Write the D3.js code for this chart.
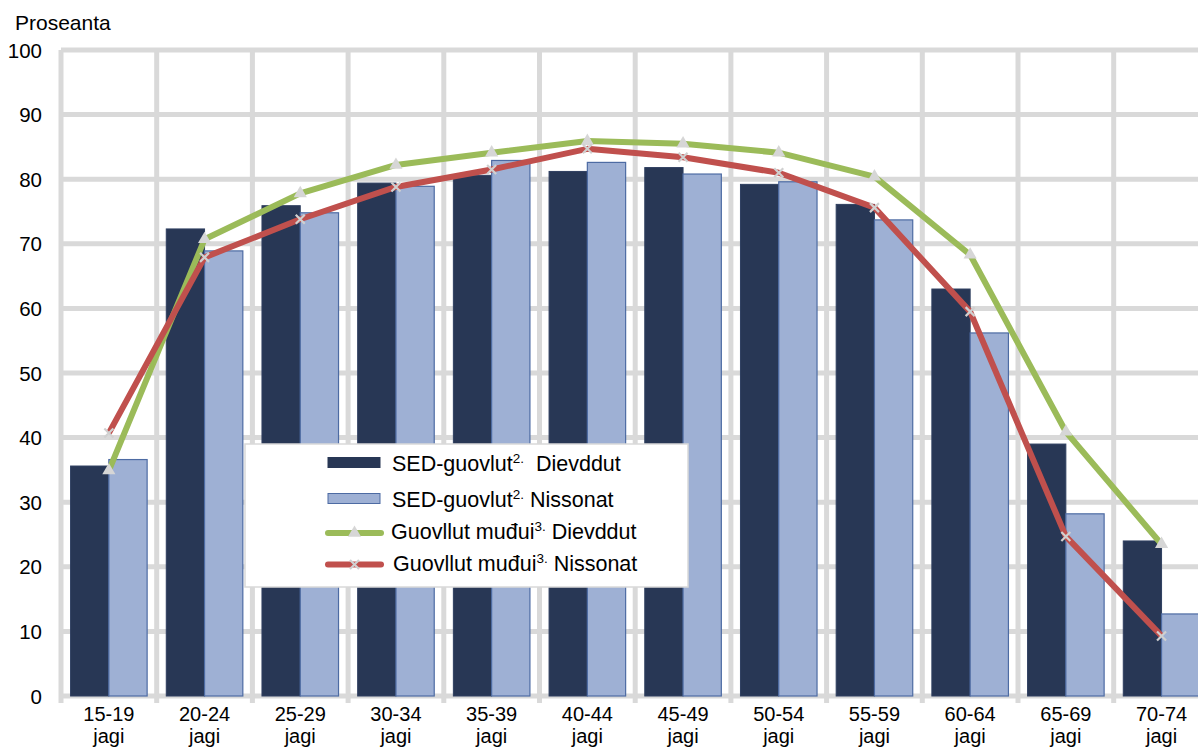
<!DOCTYPE html>
<html>
<head>
<meta charset="utf-8">
<script src="https://cdn.jsdelivr.net/npm/d3@7"></script>
<style>
  html, body { margin: 0; padding: 0; background: #fff; }
  svg { display: block; font-family: "Liberation Sans", Arial, sans-serif; }
</style>
</head>
<body>
<svg id="chart" width="1198" height="749"></svg>
<script>
const categories = ["15-19","20-24","25-29","30-34","35-39","40-44","45-49","50-54","55-59","60-64","65-69","70-74"];
const sedMen   = [35.6, 72.3, 75.9, 79.4, 80.6, 81.2, 81.8, 79.2, 76.1, 63.0, 39.0, 24.0];
const sedWomen = [36.6, 68.9, 74.8, 78.9, 82.9, 82.6, 80.8, 79.6, 73.7, 56.2, 28.2, 12.7];
const regMen   = [34.9, 70.7, 77.8, 82.2, 84.1, 85.9, 85.5, 84.1, 80.4, 68.3, 40.9, 23.5];
const regWomen = [40.7, 67.9, 73.8, 78.8, 81.5, 84.7, 83.4, 81.0, 75.6, 59.5, 24.7, 9.3];
const yTicks = [0,10,20,30,40,50,60,70,80,90,100];
const yTitle = "Proseanta";
const xSuffix = "jagi";
const legendItems = [
  {type:"bar", color:"#283755", stroke:"#283755", main:"SED-guovlut", sup:"2.", rest:"\u00a0 Dievddut"},
  {type:"bar", color:"#9eb0d4", stroke:"#4d6ba3", main:"SED-guovlut", sup:"2.", rest:" Nissonat"},
  {type:"line", color:"#9bbb59", marker:"tri", main:"Guovllut muđui", sup:"3.", rest:" Dievddut"},
  {type:"line", color:"#c0504d", marker:"x", main:"Guovllut muđui", sup:"3.", rest:" Nissonat"}
];

const svg = d3.select("#chart");
const gridColor = "#d9d9d9";
const left = 61, step = 95.7;
const x = d3.scaleBand().domain(categories).range([left, left + step * categories.length]).padding(0);
const y = d3.scaleLinear().domain([0, 100]).range([696, 50]);
const bw = x.bandwidth() * 0.4;
const cx = c => x(c) + x.bandwidth() / 2;

// Grid
const grid = svg.append("g");
grid.selectAll("line.h").data(yTicks).join("line")
  .attr("x1", left).attr("x2", 1210)
  .attr("y1", d => y(d)).attr("y2", d => y(d))
  .attr("stroke", gridColor).attr("stroke-width", 5);
const bounds = categories.map(c => x(c)).concat([x.range()[1]]);
grid.selectAll("line.v").data(bounds).join("line")
  .attr("x1", d => d).attr("x2", d => d)
  .attr("y1", y(100)).attr("y2", y(0) + 7)
  .attr("stroke", gridColor).attr("stroke-width", 5);

// Y axis labels
const yAxis = d3.axisLeft(y).tickValues(yTicks).tickSize(0).tickPadding(0);
const yg = svg.append("g").attr("transform", "translate(42,0)").call(yAxis);
yg.select(".domain").remove();
yg.selectAll("text").attr("font-size", 20.5).attr("fill", "#000").attr("font-family", "Liberation Sans, Arial, sans-serif").attr("dy", "0.35em");

svg.append("text").attr("x", 15).attr("y", 30).attr("font-size", 21).text(yTitle);

// X axis labels (two separate lines)
const xg = svg.append("g");
categories.forEach(c => {
  xg.append("text").attr("text-anchor", "middle").attr("font-size", 20)
    .attr("x", cx(c)).attr("y", 721).text(c);
  xg.append("text").attr("text-anchor", "middle").attr("font-size", 20)
    .attr("x", cx(c)).attr("y", 743).text(xSuffix);
});

// Bars
const bars = svg.append("g");
bars.selectAll("rect.m").data(categories).join("rect")
  .attr("x", c => cx(c) - bw).attr("width", bw)
  .attr("y", (c, i) => y(sedMen[i])).attr("height", (c, i) => y(0) - y(sedMen[i]))
  .attr("fill", "#283755").attr("stroke", "#2f3f60").attr("stroke-width", 1);
bars.selectAll("rect.w").data(categories).join("rect")
  .attr("x", c => cx(c)).attr("width", bw)
  .attr("y", (c, i) => y(sedWomen[i])).attr("height", (c, i) => y(0) - y(sedWomen[i]))
  .attr("fill", "#9eb0d4").attr("stroke", "#4d6ba3").attr("stroke-width", 1.2);

// Lines
const lineGen = d3.line().x(d => cx(d.c)).y(d => y(d.v));
function drawLine(vals, color, marker) {
  const data = categories.map((c, i) => ({c, v: vals[i]}));
  svg.append("path").datum(data).attr("d", lineGen)
    .attr("fill", "none").attr("stroke", color).attr("stroke-width", 6)
    .attr("stroke-linejoin", "round");
  const g = svg.append("g");
  data.forEach(d => drawMarker(g, cx(d.c), y(d.v), marker));
}
function drawMarker(g, px, py, marker) {
  if (marker === "tri") {
    g.append("path").attr("d", d3.symbol().type(d3.symbolTriangle).size(75)())
      .attr("transform", `translate(${px},${py})`).attr("fill", "#d6d6d6");
  } else {
    g.append("path").attr("d", `M${px-4.5},${py-4.5}L${px+4.5},${py+4.5}M${px-4.5},${py+4.5}L${px+4.5},${py-4.5}`)
      .attr("stroke", "#d0d0d0").attr("stroke-width", 2.2).attr("fill", "none");
  }
}
drawLine(regMen, "#9bbb59", "tri");
drawLine(regWomen, "#c0504d", "x");

// Legend
const lg = svg.append("g");
lg.append("rect").attr("x", 245).attr("y", 444).attr("width", 443).attr("height", 143)
  .attr("fill", "#fff").attr("stroke", "#d9d9d9").attr("stroke-width", 1.5);
const rows = [470.5, 506.5, 539, 570.5];
const textX = [392, 392, 391, 393];
legendItems.forEach((it, i) => {
  const by = rows[i];
  if (it.type === "bar") {
    lg.append("rect").attr("x", 328).attr("y", by - 13).attr("width", 52).attr("height", 10)
      .attr("fill", it.color).attr("stroke", it.stroke).attr("stroke-width", 1);
  } else {
    const ly = by - 6;
    lg.append("line").attr("x1", 328).attr("x2", 381).attr("y1", ly).attr("y2", ly)
      .attr("stroke", it.color).attr("stroke-width", 6).attr("stroke-linecap", "round");
    drawMarker(lg, 354.5, ly, it.marker);
  }
  const t = lg.append("text").attr("x", textX[i]).attr("y", by).attr("font-size", 21.5);
  t.append("tspan").text(it.main);
  t.append("tspan").attr("font-size", 13.5).attr("dy", -8).text(it.sup);
  t.append("tspan").attr("dy", 8).text(it.rest);
});
</script>
</body>
</html>
